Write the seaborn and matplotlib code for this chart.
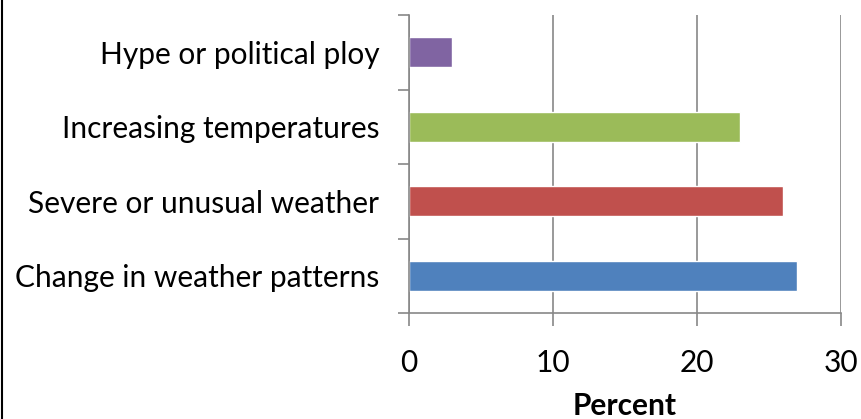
import matplotlib
matplotlib.use("Agg")
import matplotlib.pyplot as plt
from matplotlib.lines import Line2D
import seaborn as sns
import pandas as pd

categories = ["Hype or political ploy", "Increasing temperatures",
              "Severe or unusual weather", "Change in weather patterns"]
percent = [3, 23, 26, 27]
bar_colors = ["#8064A2", "#9BBB59", "#C0504D", "#4F81BD"]
x_ticks = [0, 10, 20, 30]

df = pd.DataFrame({"category": categories, "percent": percent})

sns.set_style("white")
plt.rcParams["font.family"] = ["Lato", "DejaVu Sans"]

fig = plt.figure(figsize=(8.62, 4.19), dpi=100)
ax = fig.add_axes([0.474, 0.253, 0.9753 - 0.474, 0.964 - 0.253])

sns.barplot(data=df, y="category", x="percent", hue="category",
            palette=bar_colors, order=categories, hue_order=categories,
            width=0.4, legend=False, ax=ax, orient="h", saturation=1)

grid_col = "#878787"
ax.set_xlim(0, 30)
ax.set_ylim(3.5, -0.5)
ax.set_xticks(x_ticks)
ax.set_xticklabels([str(t) for t in x_ticks])
ax.xaxis.grid(True, color=grid_col, linewidth=1.2)
ax.set_axisbelow(True)

for side in ["top", "right"]:
    ax.spines[side].set_visible(False)
for side in ["left", "bottom"]:
    ax.spines[side].set_color(grid_col)
    ax.spines[side].set_linewidth(1.2)

# category-boundary ticks on the value axis
ax.set_yticks([-0.5, 0.5, 1.5, 2.5, 3.5], minor=True)
ax.tick_params(axis="y", which="minor", length=8, width=1.2, color=grid_col, left=True)
ax.tick_params(axis="y", which="major", length=0, pad=21, labelsize=21.5, labelcolor="black")
ax.tick_params(axis="x", which="major", length=9, width=1.2, color=grid_col,
               bottom=True, direction="out", pad=17, labelsize=21.5, labelcolor="black")

ax.set_ylabel("")
ax.set_xlabel("Percent", fontsize=21.5, fontweight="bold", labelpad=11, color="black")

fig.add_artist(Line2D([2.5 / 862, 2.5 / 862], [0, 1], color="black", linewidth=1.5,
                      transform=fig.transFigure))

fig.savefig("out.png", dpi=100, facecolor="white")
